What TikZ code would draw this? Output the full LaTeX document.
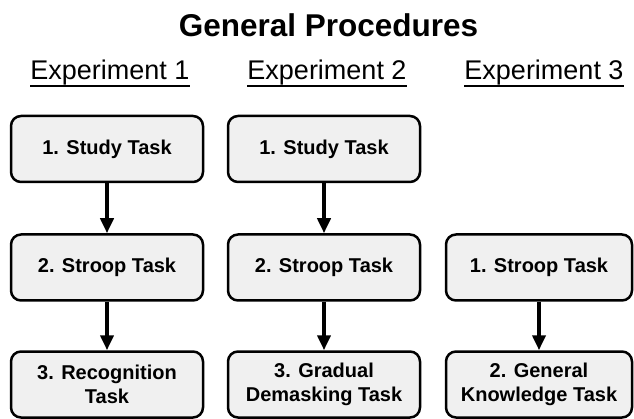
\documentclass[tikz,border=0pt]{standalone}
\usepackage{fontspec}
\setmainfont{Liberation Sans}
\usetikzlibrary{arrows.meta}

\begin{document}
\begin{tikzpicture}[x=1pt,y=-1pt,
  task/.style={draw,line width=2.5pt,rounded corners=10pt,fill=black!6,
    minimum width=192pt,minimum height=66pt,align=center,
    font=\fontsize{20}{24}\selectfont\bfseries},
  expt/.style={inner sep=0pt,anchor=base,font=\fontsize{27}{32}\selectfont},
  uline/.style={line width=1.8pt,yshift=1.5pt},
  flow/.style={line width=4pt,-{Triangle[length=15pt,width=13pt]}}]
  \useasboundingbox (0,0) rectangle (634,419);
  % headings
  \node[anchor=base,inner sep=0pt,font=\fontsize{31.5}{38}\selectfont\bfseries] (title) at (328.5,37) {General Procedures};
  \node[expt] (ex1) at (110,80) {Experiment 1};
  \node[expt] (ex2) at (327,80) {Experiment 2};
  \node[expt] (ex3) at (544,80) {Experiment 3};
  \draw[uline] (ex1.south west) -- (ex1.south east);
  \draw[uline] (ex2.south west) -- (ex2.south east);
  \draw[uline] (ex3.south west) -- (ex3.south east);
  % experiment 1
  \node[task] (a1) at (107,149) {1. Study Task};
  \node[task] (a2) at (107,267.5) {2. Stroop Task};
  \node[task] (a3) at (107,384.5) {3. Recognition\\Task};
  \draw[flow] (a1) -- (a2);
  \draw[flow] (a2) -- (a3);
  % experiment 2
  \node[task] (b1) at (324,149) {1. Study Task};
  \node[task] (b2) at (324,267.5) {2. Stroop Task};
  \node[task] (b3) at (324,384.5) {3. Gradual\\Demasking Task};
  \draw[flow] (b1) -- (b2);
  \draw[flow] (b2) -- (b3);
  % experiment 3
  \node[task,minimum width=186pt] (c1) at (539,267.5) {1. Stroop Task};
  \node[task,minimum width=186pt] (c2) at (539,384.5) {2. General\\Knowledge Task};
  \draw[flow] (c1) -- (c2);
\end{tikzpicture}
\end{document}
